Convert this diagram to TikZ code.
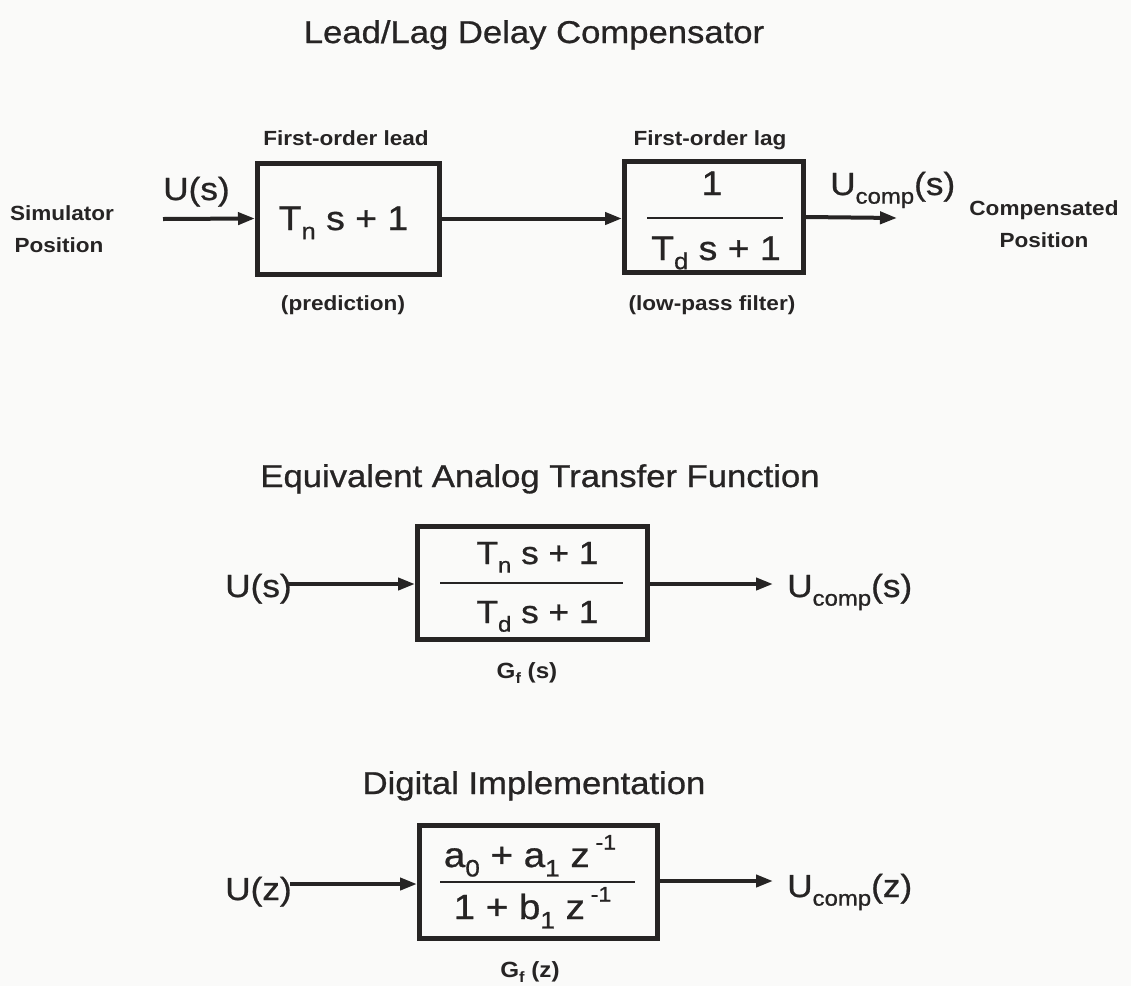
\documentclass[tikz,border=0pt]{standalone}
\usepackage{fontspec}
\usepackage{graphicx}
\setmainfont{Liberation Sans}[FakeStretch=1.1, UprightFeatures={FakeBold=0.8}]
\usetikzlibrary{arrows.meta}
\definecolor{ink}{RGB}{38,36,36}
\definecolor{paper}{RGB}{250,250,249}
\newcommand\lowr[1]{\raisebox{-0.27em}{\scalebox{0.68}{#1}}}
\newcommand\upr[1]{\raisebox{0.5em}{\scalebox{0.6}{#1}}}
\newcommand\fsz[1]{\fontsize{#1}{#1}\selectfont}
\begin{document}
\begin{tikzpicture}[x=1pt,y=-1pt,
  blk/.style={draw=ink, line width=5pt, inner sep=0pt},
  arr/.style={draw=ink, line width=4pt, -{Triangle[length=17pt,width=12pt]}},
  fracline/.style={draw=ink, line width=2pt},
  title/.style={text=ink, font=\fsz{31.5}, anchor=base, inner sep=0pt},
  lab/.style={text=ink, font=\bfseries\fsz{20.5}, anchor=base, inner sep=0pt},
  sig/.style={text=ink, font=\fsz{32}, anchor=base west, inner sep=0pt},
  eq/.style={text=ink, font=\fsz{34}, anchor=base, inner sep=0pt},
  eqs/.style={text=ink, font=\fsz{32}, anchor=base, inner sep=0pt},
  eqd/.style={text=ink, font=\fsz{35}, anchor=base, inner sep=0pt},
  gf/.style={text=ink, font=\bfseries\fsz{22}, anchor=base, inner sep=0pt}
]
\fill[paper] (0,0) rectangle (1131,986);
\useasboundingbox (0,0) rectangle (1131,986);

% ---------- top: lead/lag ----------
\node[title] (t1) at (534,43) {Lead/Lag Delay Compensator};
\node[blk, minimum width=182pt, minimum height=111pt] (b1) at (348.5,218.5) {};
\node[blk, minimum width=179pt, minimum height=111pt] (b2) at (714,217) {};
\node[lab] (lead) at (346,145) {First-order lead};
\node[lab] (lag) at (710,145) {First-order lag};
\node[lab] (pred) at (343,310) {(prediction)};
\node[lab] (lpf) at (712,310) {(low-pass filter)};
\node[lab] (sim) at (62,220) {Simulator};
\node[lab] (simpos) at (59,252) {Position};
\node[lab] (comp) at (1044,215) {Compensated};
\node[lab] (comppos) at (1044,247) {Position};
\node[sig] (us1) at (163,200) {U(s)};
\node[sig] (uc1) at (830,195) {U\lowr{comp}(s)};
\node[eq] (lead tf) at (343.5,230) {T\lowr{n} s + 1};
\node[eq] (lag num) at (712,195) {1};
\node[eq] (lag den) at (716,260) {T\lowr{d} s + 1};
\draw[fracline] (647,218) -- (783,218);
\coordinate (in1) at (163,219);
\coordinate (out1) at (897,218);
\draw[arr] (in1) -- (b1.west);
\draw[arr] (b1.east) -- (b1.east -| b2.west);
\draw[arr] (b2.east) -- (out1);

% ---------- middle: analog ----------
\node[title] (t2) at (540,487) {Equivalent Analog Transfer Function};
\node[blk, minimum width=230pt, minimum height=113pt] (bm) at (532.5,583) {};
\node[eqs] (am num) at (537.5,564) {T\lowr{n} s + 1};
\node[eqs] (am den) at (537.5,623) {T\lowr{d} s + 1};
\draw[fracline] (440,583) -- (623,583);
\node[sig] (us2) at (225,597) {U(s)};
\node[sig] (uc2) at (787,597) {U\lowr{comp}(s)};
\node[gf] (gfs) at (527,678) {G\lowr{f} (s)};
\coordinate (in2) at (288,584);
\coordinate (out2) at (773,584);
\draw[arr] (in2) -- (in2 -| bm.west);
\draw[arr] (bm.east |- out2) -- (out2);

% ---------- bottom: digital ----------
\node[title] (t3) at (534,794) {Digital Implementation};
\node[blk, minimum width=238pt, minimum height=113pt] (bd) at (538.5,882) {};
\node[eqd] (dg num) at (530,867) {a\lowr{0} + a\lowr{1} z\,\upr{-1}};
\node[eqd] (dg den) at (532.5,919) {1 + b\lowr{1} z\,\upr{-1}};
\draw[fracline] (440,882) -- (635,882);
\node[sig] (uz) at (225,900) {U(z)};
\node[sig] (ucz) at (787,897) {U\lowr{comp}(z)};
\node[gf] (gfz) at (530,977) {G\lowr{f} (z)};
\coordinate (in3) at (290,884);
\coordinate (out3) at (773,881);
\draw[arr] (in3) -- (in3 -| bd.west);
\draw[arr] (bd.east |- out3) -- (out3);
\end{tikzpicture}
\end{document}
